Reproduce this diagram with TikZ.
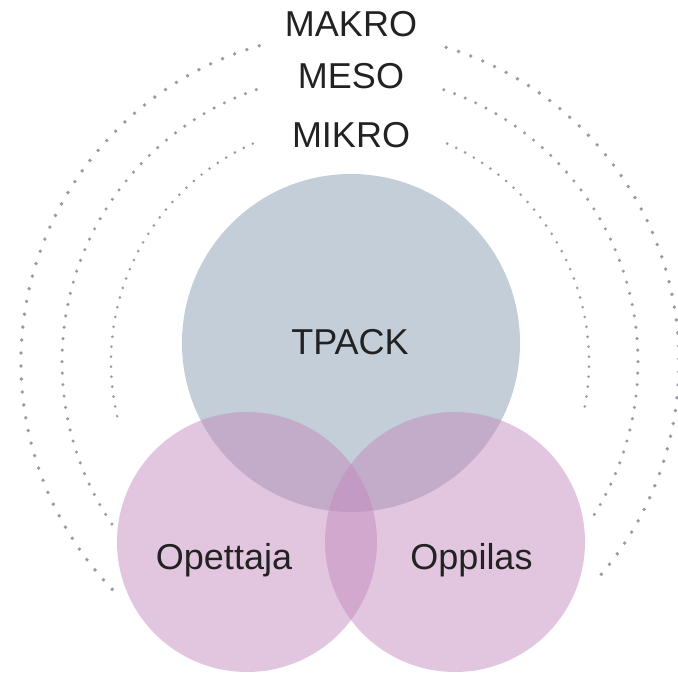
\documentclass[tikz,border=0pt]{standalone}
\usepackage{fontspec}
\setmainfont{Liberation Sans}
\begin{document}
\begin{tikzpicture}[x=1pt,y=1pt,
  label text/.style={font=\fontsize{36}{42}\selectfont, text=inkdark, anchor=base, inner sep=0pt},
  ring/.style={draw=dotgray, line cap=round, dash pattern=on 0pt off #1},
  bigcircle/.style={circle, minimum size=#1, inner sep=0pt, draw=none}]
\definecolor{inkdark}{HTML}{222222}
\definecolor{dotgray}{HTML}{9A9AA2}
\definecolor{tpackblue}{HTML}{C3CED8}
\definecolor{learnpurple}{HTML}{C388BC}
\useasboundingbox (0,0) rectangle (678,673);

% concentric dotted rings (macro, meso, micro levels)
\coordinate (rc) at (350,311);
\draw[ring=13pt, line width=3.8pt] (rc) ++(106:329) arc[start angle=106, end angle=225, radius=329];
\draw[ring=13pt, line width=3.8pt] (rc) ++(73:329) arc[start angle=73, end angle=-42, radius=329];
\draw[ring=11.5pt, line width=3.4pt] (rc) ++(109:288) arc[start angle=109, end angle=216, radius=288];
\draw[ring=11.5pt, line width=3.4pt] (rc) ++(71:288) arc[start angle=71, end angle=-33, radius=288];
\draw[ring=10pt, line width=2.9pt] (rc) ++(114:239) arc[start angle=114, end angle=195, radius=239];
\draw[ring=10pt, line width=2.9pt] (rc) ++(66:239) arc[start angle=66, end angle=-12.5, radius=239];

% level labels
\node[label text] (makro) at (351,636) {MAKRO};
\node[label text] (meso) at (351,584) {MESO};
\node[label text] (mikro) at (351,525) {MIKRO};

% overlapping circles
\node[bigcircle=338pt, fill=tpackblue] (tpack) at (351,330) {};
\node[bigcircle=260pt, fill=learnpurple, fill opacity=0.48] (teacher) at (247,131) {};
\node[bigcircle=260pt, fill=learnpurple, fill opacity=0.48] (student) at (455,131) {};

% circle labels
\node[label text] (tpacklbl) at (350,318) {TPACK};
\node[label text] (teacherlbl) at (224,104) {Opettaja};
\node[label text] (studentlbl) at (471.5,104) {Oppilas};
\end{tikzpicture}
\end{document}
